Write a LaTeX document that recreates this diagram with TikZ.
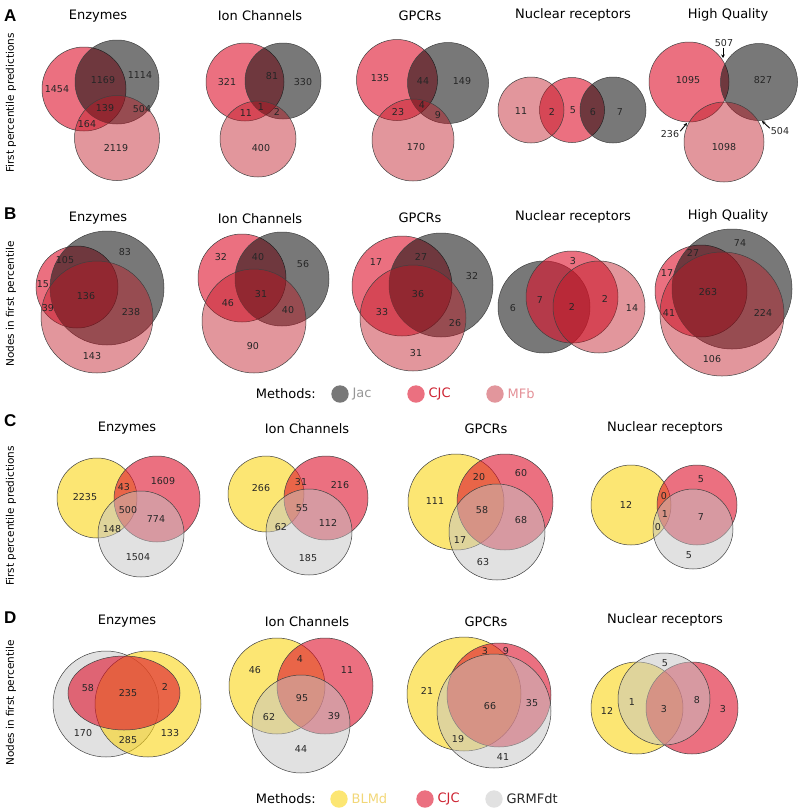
\documentclass[tikz,border=0pt]{standalone}
\usepackage{fontspec}
\setmainfont{DejaVu Sans}
\newfontfamily\letterfont{Liberation Sans}
\usetikzlibrary{positioning,arrows.meta}
\definecolor{jacc}{RGB}{10,10,10}
\definecolor{cjcc}{RGB}{222,17,43}
\definecolor{mfbc}{RGB}{190,22,35}
\definecolor{blmdc}{RGB}{250,213,22}
\definecolor{grmfc}{RGB}{195,195,195}
\definecolor{jactext}{RGB}{150,150,150}
\definecolor{cjctext}{RGB}{205,35,50}
\definecolor{mfbtext}{RGB}{228,145,152}
\definecolor{blmdtext}{RGB}{242,215,120}
\tikzset{
  vc/.style={draw=black!75, line width=0.5pt},
  jac/.style={vc, fill=jacc, fill opacity=0.55},
  cjc/.style={vc, fill=cjcc, fill opacity=0.6},
  mfb/.style={vc, fill=mfbc, fill opacity=0.45},
  blmd/.style={vc, fill=blmdc, fill opacity=0.6},
  grmf/.style={vc, fill=grmfc, fill opacity=0.5},
  num/.style={font=\fontsize{9.5}{11}\selectfont, text=black!85, inner sep=0pt},
  ttl/.style={font=\fontsize{13}{15}\selectfont, anchor=base, inner sep=0pt},
  ylab/.style={rotate=90, font=\fontsize{10.5}{12}\selectfont, inner sep=0pt},
  letter/.style={font=\fontsize{17}{19}\letterfont\bfseries, anchor=base west, inner sep=0pt},
  key/.style={font=\fontsize{13}{15}\selectfont, inner sep=0pt},
  keydot/.style={circle, minimum size=17.4pt, inner sep=0pt, fill opacity=#1},
  tip/.style={-{Stealth[length=3.5pt,width=3.5pt]}, line width=0.9pt}
}
\begin{document}
\begin{tikzpicture}[x=1pt,y=-1pt]
\useasboundingbox (0,0) rectangle (800,812);

% panel letters and side labels
\node[letter] (pa) at (4,21) {A};
\node[letter] (pb) at (4,219) {B};
\node[letter] (pc) at (4,426) {C};
\node[letter] (pd) at (4,623) {D};
\node[ylab] (ya) at (11,103) {First percentile predictions};
\node[ylab] (yb) at (11,304) {Nodes in first percentile};
\node[ylab] (yc) at (11,516) {First percentile predictions};
\node[ylab] (yd) at (11,703) {Nodes in first percentile};

% titles
\node[ttl] (ta1) at (98,19) {Enzymes};
\node[ttl] (ta2) at (260,20) {Ion Channels};
\node[ttl] (ta3) at (420,20) {GPCRs};
\node[ttl] (ta4) at (573,18) {Nuclear receptors};
\node[ttl] (ta5) at (728,18) {High Quality};
\node[ttl] (tb1) at (98,221) {Enzymes};
\node[ttl] (tb2) at (260,223) {Ion Channels};
\node[ttl] (tb3) at (420,222) {GPCRs};
\node[ttl] (tb4) at (573,220) {Nuclear receptors};
\node[ttl] (tb5) at (728,219) {High Quality};
\node[ttl] (tc1) at (127,431) {Enzymes};
\node[ttl] (tc2) at (307,433) {Ion Channels};
\node[ttl] (tc3) at (486,433) {GPCRs};
\node[ttl] (tc4) at (665,431) {Nuclear receptors};
\node[ttl] (td1) at (127,624) {Enzymes};
\node[ttl] (td2) at (307,626) {Ion Channels};
\node[ttl] (td3) at (486,626) {GPCRs};
\node[ttl] (td4) at (665,623) {Nuclear receptors};

% A: first percentile predictions (Jac, CJC, MFb)
\draw[cjc] (84,89) circle[radius=42pt];
\draw[jac] (117,82) circle[radius=42pt];
\draw[mfb] (117,138) circle[radius=42.5pt];
\node[num] (ae1) at (57,89) {1454};
\node[num] (ae2) at (103,80) {1169};
\node[num] (ae3) at (140,75) {1114};
\node[num] (ae4) at (105,108) {139};
\node[num] (ae5) at (142,109) {504};
\node[num] (ae6) at (87,124) {164};
\node[num] (ae7) at (116,148) {2119};

\draw[cjc] (245,82) circle[radius=39pt];
\draw[jac] (283,81) circle[radius=38pt];
\draw[mfb] (258,139) circle[radius=38pt];
\node[num] (ai1) at (227,82) {321};
\node[num] (ai2) at (272,76) {81};
\node[num] (ai3) at (303,82) {330};
\node[num] (ai4) at (246,113) {11};
\node[num] (ai5) at (261,107) {1};
\node[num] (ai6) at (277,112) {2};
\node[num] (ai7) at (261,148) {400};

\draw[cjc] (397,80) circle[radius=40.5pt];
\draw[jac] (448,83) circle[radius=40.5pt];
\draw[mfb] (413,140) circle[radius=41pt];
\node[num] (ag1) at (380,78) {135};
\node[num] (ag2) at (423,81) {44};
\node[num] (ag3) at (462,81) {149};
\node[num] (ag4) at (398,112) {23};
\node[num] (ag5) at (422,105) {4};
\node[num] (ag6) at (438,115) {9};
\node[num] (ag7) at (416,147) {170};

\draw[cjc] (572,110) circle[radius=32.5pt];
\draw[jac] (613,110) circle[radius=33pt];
\draw[mfb] (531,110) circle[radius=33pt];
\node[num] (an1) at (521,111) {11};
\node[num] (an2) at (552,112) {2};
\node[num] (an3) at (573,110) {5};
\node[num] (an4) at (593,112) {6};
\node[num] (an5) at (620,112) {7};

\draw[cjc] (689,82) circle[radius=40pt];
\draw[jac] (759,82) circle[radius=38.5pt];
\draw[mfb] (724,142) circle[radius=40pt];
\node[num] (ah1) at (688,80) {1095};
\node[num] (ah2) at (763,80) {827};
\node[num] (ah3) at (724,147) {1098};
\node[num] (ah4) at (724,43) {507};
\node[num] (ah5) at (670,134) {236};
\node[num] (ah6) at (780,131) {504};
\coordinate (ah4t) at (723,58);
\coordinate (ah5t) at (687,123);
\coordinate (ah6t) at (762,121);
\draw[tip] (ah4.south) ++(-1,1) -- (ah4t);
\draw[tip] (ah5.north east) ++(1,1) -- (ah5t);
\draw[tip] (ah6.north west) ++(-1,1) -- (ah6t);

% B: nodes in first percentile (Jac, CJC, MFb)
\draw[cjc] (77,287) circle[radius=41pt];
\draw[jac] (107,288) circle[radius=57pt];
\draw[mfb] (97,317) circle[radius=56pt];
\node[num] (be1) at (65,260) {105};
\node[num] (be2) at (125,252) {83};
\node[num] (be3) at (43,284) {15};
\node[num] (be4) at (86,296) {136};
\node[num] (be5) at (48,308) {39};
\node[num] (be6) at (131,312) {238};
\node[num] (be7) at (92,356) {143};

\draw[cjc] (242,278) circle[radius=44pt];
\draw[jac] (282,279) circle[radius=47pt];
\draw[mfb] (254,321) circle[radius=52pt];
\node[num] (bi1) at (221,257) {32};
\node[num] (bi2) at (258,257) {40};
\node[num] (bi3) at (303,264) {56};
\node[num] (bi4) at (261,294) {31};
\node[num] (bi5) at (228,303) {46};
\node[num] (bi6) at (288,310) {40};
\node[num] (bi7) at (253,346) {90};

\draw[cjc] (402,286) circle[radius=50pt];
\draw[jac] (441,285) circle[radius=52pt];
\draw[mfb] (413,318) circle[radius=53pt];
\node[num] (bg1) at (376,262) {17};
\node[num] (bg2) at (421,257) {27};
\node[num] (bg3) at (472,276) {32};
\node[num] (bg4) at (418,294) {36};
\node[num] (bg5) at (382,312) {33};
\node[num] (bg6) at (455,323) {26};
\node[num] (bg7) at (416,353) {31};

\draw[jac] (544,307) circle[radius=46pt];
\draw[cjc] (572,297) circle[radius=46pt];
\draw[mfb] (599,307) circle[radius=46pt];
\node[num] (bn1) at (573,261) {3};
\node[num] (bn2) at (513,308) {6};
\node[num] (bn3) at (540,300) {7};
\node[num] (bn4) at (572,307) {2};
\node[num] (bn5) at (605,299) {2};
\node[num] (bn6) at (632,308) {14};

\draw[cjc] (701,291) circle[radius=46pt];
\draw[jac] (732,289) circle[radius=60pt];
\draw[mfb] (722,314) circle[radius=62pt];
\node[num] (bh1) at (740,243) {74};
\node[num] (bh2) at (693,253) {27};
\node[num] (bh3) at (667,273) {17};
\node[num] (bh4) at (708,292) {263};
\node[num] (bh5) at (669,313) {41};
\node[num] (bh6) at (763,313) {224};
\node[num] (bh7) at (712,359) {106};

% legend for A and B
\node[key, anchor=east] (ka) at (316,394) {Methods:};
\node[keydot=0.55, fill=jacc] (kjac) at (340,394) {};
\node[key, right=3.5pt of kjac, text=jactext] (ljac) {Jac};
\node[keydot=0.6, fill=cjcc] (kcjc) at (416,394) {};
\node[key, right=3.5pt of kcjc, text=cjctext] (lcjc) {CJC};
\node[keydot=0.45, fill=mfbc] (kmfb) at (495,394) {};
\node[key, right=3.5pt of kmfb, text=mfbtext] (lmfb) {MFb};

% C: first percentile predictions (BLMd, CJC, GRMFdt)
\draw[blmd] (97,498) circle[radius=40pt];
\draw[cjc] (157,499) circle[radius=43pt];
\draw[grmf] (141,534) circle[radius=43pt];
\node[num] (ce1) at (85,497) {2235};
\node[num] (ce2) at (124,487) {43};
\node[num] (ce3) at (163,481) {1609};
\node[num] (ce4) at (128,510) {500};
\node[num] (ce5) at (156,519) {774};
\node[num] (ce6) at (112,529) {148};
\node[num] (ce7) at (138,557) {1504};

\draw[blmd] (266,494) circle[radius=38pt];
\draw[cjc] (326,498) circle[radius=42pt];
\draw[grmf] (309,532) circle[radius=43pt];
\node[num] (ci1) at (261,488) {266};
\node[num] (ci2) at (301,482) {31};
\node[num] (ci3) at (340,485) {216};
\node[num] (ci4) at (302,508) {55};
\node[num] (ci5) at (281,527) {62};
\node[num] (ci6) at (328,523) {112};
\node[num] (ci7) at (308,558) {185};

\draw[blmd] (456,502) circle[radius=48pt];
\draw[cjc] (505,502) circle[radius=48pt];
\draw[grmf] (497,532) circle[radius=48pt];
\node[num] (cg1) at (479,477) {20};
\node[num] (cg2) at (521,473) {60};
\node[num] (cg3) at (435,501) {111};
\node[num] (cg4) at (482,510) {58};
\node[num] (cg5) at (521,520) {68};
\node[num] (cg6) at (460,540) {17};
\node[num] (cg7) at (483,562) {63};

\draw[blmd] (631,505) circle[radius=40pt];
\draw[cjc] (697,505) circle[radius=40pt];
\draw[grmf] (693,529) circle[radius=40pt];
\node[num] (cn1) at (626,505) {12};
\node[num] (cn2) at (701,479) {5};
\node[num] (cn3) at (664,496) {0};
\node[num] (cn4) at (665,514) {1};
\node[num] (cn5) at (701,517) {7};
\node[num] (cn6) at (658,527) {0};
\node[num] (cn7) at (689,555) {5};

% D: nodes in first percentile (BLMd, CJC, GRMFdt)
\draw[grmf] (106,704) circle[radius=53pt];
\draw[blmd] (148,704) circle[radius=53pt];
\draw[cjc] (124,693) ellipse[x radius=56pt, y radius=37pt];
\node[num] (de1) at (88,688) {58};
\node[num] (de2) at (128,693) {235};
\node[num] (de3) at (165,687) {2};
\node[num] (de4) at (83,733) {170};
\node[num] (de5) at (128,740) {285};
\node[num] (de6) at (170,733) {133};

\draw[blmd] (277,686) circle[radius=48pt];
\draw[cjc] (325,686) circle[radius=48pt];
\draw[grmf] (301,724) circle[radius=49pt];
\node[num] (di1) at (255,670) {46};
\node[num] (di2) at (300,659) {4};
\node[num] (di3) at (347,670) {11};
\node[num] (di4) at (302,698) {95};
\node[num] (di5) at (269,717) {62};
\node[num] (di6) at (334,716) {39};
\node[num] (di7) at (301,749) {44};

\draw[blmd] (464,694) circle[radius=57pt];
\draw[cjc] (499,695) circle[radius=52pt];
\draw[grmf] (494,711) circle[radius=57pt];
\node[num] (dg1) at (485,651) {3};
\node[num] (dg2) at (506,651) {9};
\node[num] (dg3) at (427,691) {21};
\node[num] (dg4) at (490,706) {66};
\node[num] (dg5) at (532,703) {35};
\node[num] (dg6) at (458,739) {19};
\node[num] (dg7) at (503,757) {41};

\draw[blmd] (637,708) circle[radius=46pt];
\draw[cjc] (692,708) circle[radius=46pt];
\draw[grmf] (664,699) circle[radius=46pt];
\node[num] (dn1) at (665,663) {5};
\node[num] (dn2) at (607,711) {12};
\node[num] (dn3) at (632,702) {1};
\node[num] (dn4) at (664,709) {3};
\node[num] (dn5) at (697,700) {8};
\node[num] (dn6) at (723,709) {3};

% legend for C and D
\node[key, anchor=east] (kd) at (316,799) {Methods:};
\node[keydot=0.6, fill=blmdc] (kblmd) at (339,799) {};
\node[key, right=3.5pt of kblmd, text=blmdtext] (lblmd) {BLMd};
\node[keydot=0.6, fill=cjcc] (kcjc2) at (425,799) {};
\node[key, right=3.5pt of kcjc2, text=cjctext] (lcjc2) {CJC};
\node[keydot=0.5, fill=grmfc] (kgrmf) at (494,799) {};
\node[key, right=3.5pt of kgrmf, text=black!85] (lgrmf) {GRMFdt};
\end{tikzpicture}
\end{document}
